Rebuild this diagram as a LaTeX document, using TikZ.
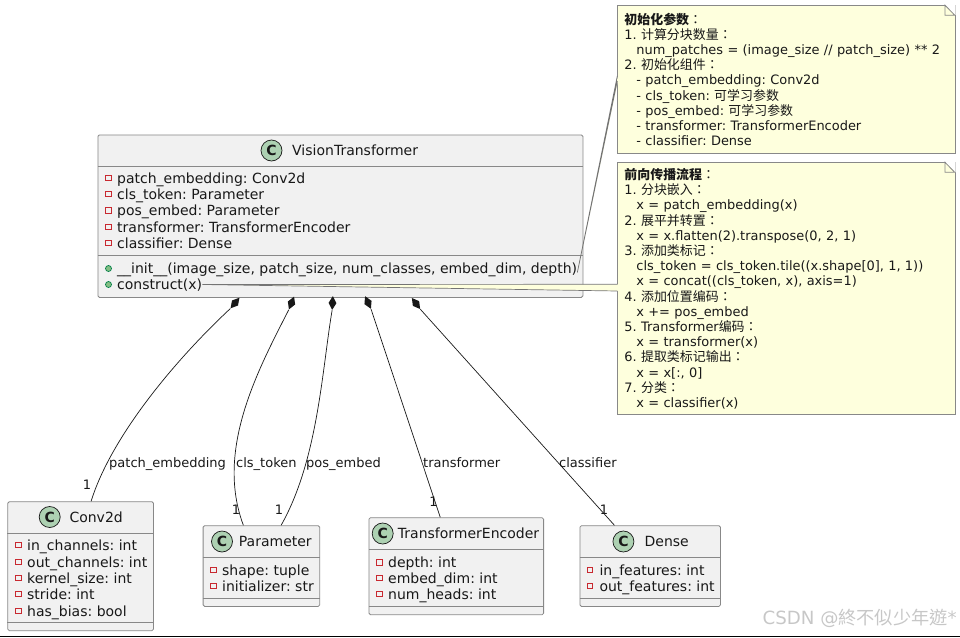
\documentclass[tikz,border=0pt]{standalone}
\usepackage{fontspec}
\setmainfont{DejaVu Sans}
\newfontfamily\cjk{Noto Sans CJK SC}
\newfontfamily\cjktc{Noto Sans CJK TC}
\usetikzlibrary{positioning,shapes.geometric}
\definecolor{boxfill}{HTML}{F1F1F1}
\definecolor{linegray}{HTML}{888888}
\definecolor{notefill}{HTML}{FEFFDD}
\definecolor{circfill}{HTML}{ADD1B2}
\definecolor{privred}{HTML}{C82930}
\definecolor{pubfill}{HTML}{84BE84}
\definecolor{publine}{HTML}{038048}
\definecolor{inkdark}{HTML}{181818}
\newcommand{\zh}[1]{{\cjk #1}}
\newcommand{\zc}{{\cjktc ：}}
\frenchspacing

\begin{document}
\begin{tikzpicture}[
  x=1pt, y=-1pt,
  font=\fontsize{14}{16}\selectfont,
  text=inkdark,
  classbox/.style={draw=linegray, line width=0.8pt, fill=boxfill, rounded corners=1.5pt, anchor=north west, inner sep=0pt},
  sepline/.style={draw=linegray, line width=0.8pt},
  circC/.style={circle, draw=inkdark, line width=0.7pt, fill=circfill, minimum size=21pt, inner sep=0pt, font=\fontsize{14}{14}\selectfont\bfseries},
  title/.style={anchor=west, inner sep=0pt, text height=12pt, text depth=2pt},
  member/.style={anchor=west, inner sep=0pt, text height=12pt, text depth=2pt},
  priv/.style={draw=privred, line width=0.8pt, minimum size=5.5pt, inner sep=0pt},
  pub/.style={circle, draw=publine, line width=0.7pt, fill=pubfill, minimum size=6pt, inner sep=0pt},
  note/.style={draw=linegray, line width=0.8pt, fill=notefill, anchor=north west, minimum width=337.4pt, text width=324pt, inner xsep=6.7pt, inner ysep=0pt, align=left, font=\fontsize{12.95}{15.2}\selectfont},
  comp/.style={diamond, fill=inkdark, minimum width=8pt, minimum height=14pt, inner sep=0pt},
  assoc/.style={draw=inkdark, line width=0.7pt},
  link/.style={draw=linegray!85!black, line width=0.7pt},
  lab/.style={inner sep=0pt, font=\fontsize{13}{16}\selectfont, text height=12pt, text depth=2pt},
  multip/.style={inner sep=0pt, font=\fontsize{13}{16}\selectfont}
]
  \useasboundingbox (0,0) rectangle (960,637);

  % main class
  \node[classbox, minimum width=485pt, minimum height=162.5pt] (vit) at (97.5,134.5) {};
  \draw[sepline] (vit.west |- 0,166.5) -- (vit.east |- 0,166.5);
  \draw[sepline] (vit.west |- 0,255.5) -- (vit.east |- 0,255.5);
  \node[circC] (vitC) at (271.5,150.5) {C};
  \node[title] (vitT) at (292,150.5) {VisionTransformer};
  \foreach \i/\yy/\txt in {1/178/patch\_embedding: Conv2d, 2/194/cls\_token: Parameter, 3/210.5/pos\_embed: Parameter, 4/227/transformer: TransformerEncoder, 5/243/classifier: Dense} {
    \node[priv] (vitP\i) at (108.5,\yy) {};
    \node[member] (vitM\i) at (117,\yy) {\txt};
  }
  \node[pub] (vitP6) at (108.5,268.5) {};
  \node[member] (vitM6) at (117,268.5) {\_\_init\_\_(image\_size, patch\_size, num\_classes, embed\_dim, depth)};
  \node[pub] (vitP7) at (108.5,284.5) {};
  \node[member] (vitM7) at (117,284.5) {construct(x)};

  % parts
  \node[classbox, minimum width=145.6pt, minimum height=129pt] (conv) at (7.4,501.3) {};
  \draw[sepline] (conv.west |- 0,533.3) -- (conv.east |- 0,533.3);
  \draw[sepline] (conv.west |- 0,622.3) -- (conv.east |- 0,622.3);
  \node[circC] (convC) at (49.7,517) {C};
  \node[title] (convT) at (69.3,517) {Conv2d};
  \foreach \i/\yy/\txt in {1/545/in\_channels: int, 2/562/out\_channels: int, 3/578/kernel\_size: int, 4/594/stride: int, 5/611/has\_bias: bool} {
    \node[priv] (convP\i) at (18.3,\yy) {};
    \node[member] (convM\i) at (27,\yy) {\txt};
  }

  \node[classbox, minimum width=116.6pt, minimum height=80.7pt] (param) at (202.7,525.3) {};
  \draw[sepline] (param.west |- 0,557.3) -- (param.east |- 0,557.3);
  \draw[sepline] (param.west |- 0,598.3) -- (param.east |- 0,598.3);
  \node[circC] (paramC) at (222,541.5) {C};
  \node[title] (paramT) at (238.7,541.5) {Parameter};
  \foreach \i/\yy/\txt in {1/570/shape: tuple, 2/586/initializer: str} {
    \node[priv] (paramP\i) at (213.3,\yy) {};
    \node[member] (paramM\i) at (222,\yy) {\txt};
  }

  \node[classbox, minimum width=174.7pt, minimum height=97pt] (enc) at (368.5,517.3) {};
  \draw[sepline] (enc.west |- 0,549.3) -- (enc.east |- 0,549.3);
  \draw[sepline] (enc.west |- 0,606) -- (enc.east |- 0,606);
  \node[circC] (encC) at (382.7,533.5) {C};
  \node[title] (encT) at (397.7,533.5) {TransformerEncoder};
  \foreach \i/\yy/\txt in {1/562.5/depth: int, 2/578/embed\_dim: int, 3/594/num\_heads: int} {
    \node[priv] (encP\i) at (379.5,\yy) {};
    \node[member] (encM\i) at (388,\yy) {\txt};
  }

  \node[classbox, minimum width=140.5pt, minimum height=80.7pt] (dense) at (579.5,525.3) {};
  \draw[sepline] (dense.west |- 0,557.3) -- (dense.east |- 0,557.3);
  \draw[sepline] (dense.west |- 0,598.3) -- (dense.east |- 0,598.3);
  \node[circC] (denseC) at (623.4,541.5) {C};
  \node[title] (denseT) at (644.4,541.5) {Dense};
  \foreach \i/\yy/\txt in {1/570/in\_features: int, 2/586/out\_features: int} {
    \node[priv] (denseP\i) at (590,\yy) {};
    \node[member] (denseM\i) at (599.3,\yy) {\txt};
  }

  % compositions
  \node[comp, rotate=-40] (d1) at (235,303) {};
  \node[comp, rotate=-22] (d2) at (291.5,303) {};
  \node[comp, rotate=-3] (d3) at (332.5,303) {};
  \node[comp, rotate=25] (d4) at (368,302.5) {};
  \node[comp, rotate=37] (d5) at (416,303.5) {};
  \draw[assoc] (d1.south) .. controls (170,365) and (110,440) .. ([xshift=10.5pt]conv.north);
  \draw[assoc] (d2.south) .. controls (258,370) and (215,450) .. ([xshift=-18pt]param.north);
  \draw[assoc] (d3.south) .. controls (322,370) and (318,460) .. ([xshift=19.7pt]param.north);
  \draw[assoc] (d4.south) -- ([xshift=-16pt]enc.north);
  \draw[assoc] (d5.south) -- ([xshift=-35.7pt]dense.north);

  \node[lab, anchor=west] (labconv) at (109,462.5) {patch\_embedding};
  \node[lab, anchor=west] (labcls) at (236,462.5) {cls\_token};
  \node[lab, anchor=west] (labpos) at (306,462.5) {pos\_embed};
  \node[lab, anchor=west] (labenc) at (423,462.5) {transformer};
  \node[lab, anchor=west] (labdense) at (559,462.5) {classifier};
  \node[multip] (oneconv) at (87,485) {1};
  \node[multip] (onecls) at (236,510) {1};
  \node[multip] (onepos) at (279,510) {1};
  \node[multip] (oneenc) at (433.5,502) {1};
  \node[multip] (onedense) at (604,510) {1};

  % notes
  \node[note, minimum height=147.5pt] (noteinit) at (617.3,5.2) {%
    \textbf{\zh{初始化参数}}\zc\\
    1. \zh{计算分块数量}\zc\\
    \hspace*{12pt}num\_patches = (image\_size // patch\_size) ** 2\\
    2. \zh{初始化组件}\zc\\
    \hspace*{12pt}- patch\_embedding: Conv2d\\
    \hspace*{12pt}- cls\_token: \zh{可学习参数}\\
    \hspace*{12pt}- pos\_embed: \zh{可学习参数}\\
    \hspace*{12pt}- transformer: TransformerEncoder\\
    \hspace*{12pt}- classifier: Dense};
  \fill[white] (945,4.5) -- (955.5,4.5) -- (955.5,15.2) -- cycle;
  \draw[draw=linegray, line width=0.8pt, fill=notefill] (945,5.2) -- (945,15.2) -- (954.7,15.2) -- cycle;

  \node[note, minimum height=252pt] (noteflow) at (617.3,162.3) {%
    \textbf{\zh{前向传播流程}}\zc\\
    1. \zh{分块嵌入}\zc\\
    \hspace*{12pt}x = patch\_embedding(x)\\
    2. \zh{展平并转置}\zc\\
    \hspace*{12pt}x = x.flatten(2).transpose(0, 2, 1)\\
    3. \zh{添加类标记}\zc\\
    \hspace*{12pt}cls\_token = cls\_token.tile((x.shape[0], 1, 1))\\
    \hspace*{12pt}x = concat((cls\_token, x), axis=1)\\
    4. \zh{添加位置编码}\zc\\
    \hspace*{12pt}x += pos\_embed\\
    5. Transformer\zh{编码}\zc\\
    \hspace*{12pt}x = transformer(x)\\
    6. \zh{提取类标记输出}\zc\\
    \hspace*{12pt}x = x[:, 0]\\
    7. \zh{分类}\zc\\
    \hspace*{12pt}x = classifier(x)};
  \fill[white] (945,161.6) -- (955.5,161.6) -- (955.5,172.3) -- cycle;
  \draw[draw=linegray, line width=0.8pt, fill=notefill] (945,162.3) -- (945,172.3) -- (954.7,172.3) -- cycle;

  % note links
  \coordinate (tipinit) at ([yshift=-4pt]vitM6.east);
  \coordinate (initA) at (noteinit.west |- 0,76);
  \coordinate (initB) at (noteinit.west |- 0,81);
  \fill[notefill] (tipinit) -- ([xshift=0.6pt]initA) -- ([xshift=0.6pt]initB) -- cycle;
  \draw[link] (initA) -- (tipinit) -- (initB);
  \coordinate (tipflow) at (vitM7.east);
  \coordinate (flowA) at (noteflow.west |- 0,284.3);
  \coordinate (flowB) at (noteflow.west |- 0,291);
  \fill[notefill] (tipflow) -- ([xshift=0.6pt]flowA) -- ([xshift=0.6pt]flowB) -- cycle;
  \draw[link] (flowA) -- (tipflow) -- (flowB);

  % footer
  \node[lab, text=black!22, anchor=east, font=\fontsize{18.2}{18}\selectfont] (mark) at (957,619) {CSDN @{\cjktc 終不似少年遊}*};
  \coordinate (ruleL) at (0,636.2);
  \coordinate (ruleR) at (960,636.2);
  \draw[black, line width=1.2pt] (ruleL) -- (ruleR);
\end{tikzpicture}
\end{document}
